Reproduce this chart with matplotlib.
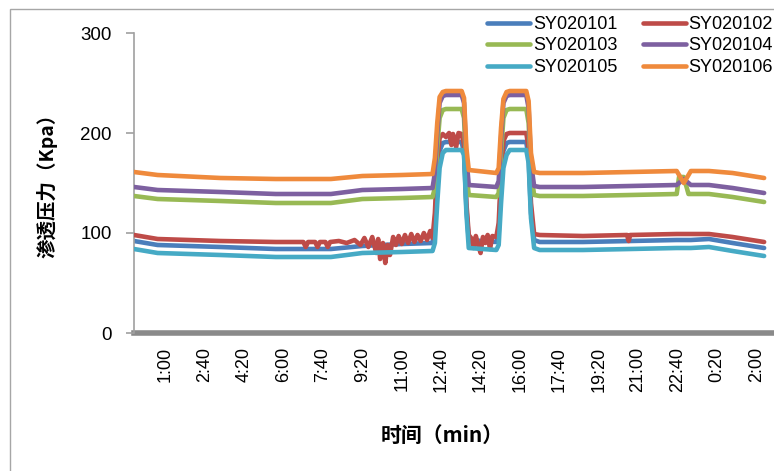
import matplotlib
matplotlib.use("Agg")
import matplotlib.pyplot as plt
from matplotlib.patches import Rectangle

# time in minutes from 0:00 of the first day (start 23:40 the day before)
t_common = [-20, 40, 200, 340, 480, 560, 660, 738, 744, 750, 756, 764, 772, 812, 818,
            824, 830, 900, 906, 912, 918, 926, 934, 976, 982, 988, 996, 1010, 1120,
            1240, 1358, 1364, 1376, 1388, 1394, 1440, 1500, 1580]

sy101 = [92, 88, 86, 84, 84, 87, 89, 90, 110, 155, 182, 190, 191, 191, 180, 125, 93,
         91, 100, 150, 182, 190, 191, 191, 175, 120, 93, 91, 91, 92, 93, 93, 93, 93, 93,
         94, 90, 85]
sy103 = [137, 134, 132, 130, 130, 134, 135, 136, 145, 185, 215, 223, 224, 224, 215, 160,
         138, 136, 140, 180, 215, 223, 224, 224, 210, 160, 138, 137, 137, 138, 139, 156,
         156, 139, 139, 139, 136, 131]
sy104 = [146, 143, 141, 139, 139, 143, 144, 145, 160, 200, 230, 237, 238, 238, 230, 175,
         148, 146, 152, 195, 230, 237, 238, 238, 225, 170, 147, 146, 146, 147, 148, 150,
         154, 150, 148, 148, 145, 140]
sy105 = [84, 80, 78, 76, 76, 80, 81, 82, 90, 130, 165, 180, 183, 183, 178, 120, 85, 83,
         88, 130, 165, 178, 183, 183, 170, 115, 85, 83, 83, 84, 85, 85, 85, 85, 85, 86,
         82, 77]
sy106 = [161, 158, 155, 154, 154, 157, 158, 159, 175, 210, 236, 241, 242, 242, 235, 185,
         163, 160, 165, 205, 234, 241, 242, 242, 232, 180, 161, 160, 160, 161, 162, 158,
         150, 158, 162, 162, 160, 155]

# SY020102 is noisy, so it has its own time points
t_red = [-20, 40, 200, 340, 410, 416, 422, 440, 446, 452, 466, 472, 478, 500, 520, 540,
         555, 565, 575, 585, 595, 600, 605, 612, 618, 624, 630, 638, 645, 652, 660, 668,
         676, 684, 692, 700, 708, 716, 724, 732, 738, 744, 750, 756, 764, 772, 780, 786,
         790, 798, 804, 812, 818, 824, 830, 836, 842, 848, 854, 860, 866, 872, 878, 884,
         890, 900, 906, 912, 918, 926, 934, 976, 982, 988, 996, 1010, 1120, 1232, 1236,
         1240, 1358, 1440, 1500, 1580]
sy102 = [98, 94, 92, 91, 91, 86, 91, 91, 86, 91, 91, 86, 91, 92, 90, 93,
         88, 95, 86, 96, 80, 94, 74, 90, 70, 88, 78, 96, 88, 97, 89, 98,
         90, 99, 91, 98, 92, 100, 93, 102, 95, 120, 170, 195, 199, 196, 200, 188,
         199, 186, 200, 199, 188, 130, 98, 95, 85, 97, 88, 80, 96, 90, 98, 84,
         97, 96, 110, 160, 192, 199, 200, 200, 185, 130, 99, 98, 97, 98, 92,
         98, 99, 99, 96, 91]

tick_pos = [60 + 100 * i for i in range(16)]
tick_labels = ["1:00", "2:40", "4:20", "6:00", "7:40", "9:20", "11:00", "12:40",
               "14:20", "16:00", "17:40", "19:20", "21:00", "22:40", "0:20", "2:00"]

names = ["SY020101", "SY020102", "SY020103", "SY020104", "SY020105", "SY020106"]
colors = ["#4A7EBB", "#BE4B48", "#98B954", "#7D60A0", "#46AAC5", "#EF8A3C"]

W, H = 774, 471
fig = plt.figure(figsize=(W / 100, H / 100), dpi=100)
ax = fig.add_axes([134 / W, 1 - 333 / H, (772 - 134) / W, 300 / H])

series = [(t_common, sy101), (t_red, sy102), (t_common, sy103),
          (t_common, sy104), (t_common, sy105), (t_common, sy106)]
lines = []
for i, ((tt, vv), name, c) in enumerate(zip(series, names, colors)):
    ln, = ax.plot(tt, vv, color=c, lw=3.3, label=name, zorder=2 + i,
                  solid_joinstyle="round", solid_capstyle="round")
    lines.append(ln)

ax.set_xlim(-20, 1600)
ax.set_ylim(0, 300)
ax.set_yticks([0, 100, 200, 300])
ax.set_xticks(tick_pos)
ax.set_xticklabels(tick_labels, rotation=90, fontfamily="Liberation Sans", fontsize=13)
for lab in ax.get_yticklabels():
    lab.set_fontfamily("Liberation Sans")
    lab.set_fontsize(13.5)
ax.tick_params(axis="x", length=0, pad=10)
ax.tick_params(axis="y", length=6, width=1.2, color="#a0a0a0", pad=10)

for s in ["top", "right"]:
    ax.spines[s].set_visible(False)
ax.spines["left"].set_color("#a0a0a0")
ax.spines["left"].set_linewidth(1.2)
ax.spines["bottom"].set_color("#8a8a8a")
ax.spines["bottom"].set_linewidth(4)
ax.spines["bottom"].set_zorder(1)

order = [0, 2, 4, 1, 3, 5]
leg = fig.legend([lines[k] for k in order], [names[k] for k in order],
                 loc="center", bbox_to_anchor=(630 / W, 1 - 46 / H), ncol=2,
                 frameon=False, borderpad=0, handlelength=2.4, handletextpad=0.15,
                 columnspacing=1.4, labelspacing=0.25,
                 prop={"family": "Liberation Sans", "size": 13})

cjk = ["Noto Sans CJK SC", "DejaVu Sans"]
fig.text(47 / W, 1 - 181 / H, "渗透压力（Kpa）", rotation=90, ha="center", va="center",
         fontsize=14, fontweight="bold", family=cjk)
fig.text(442 / W, 1 - 435 / H, "时间（min）", ha="center", va="center",
         fontsize=15, fontweight="bold", family=cjk)

fig.patches.append(Rectangle((10 / W, -0.2), 1.5, 0.2 + 1 - 9 / H,
                             transform=fig.transFigure, fill=False,
                             edgecolor="#a6a6a6", lw=1))

fig.savefig("out.png", dpi=100)
